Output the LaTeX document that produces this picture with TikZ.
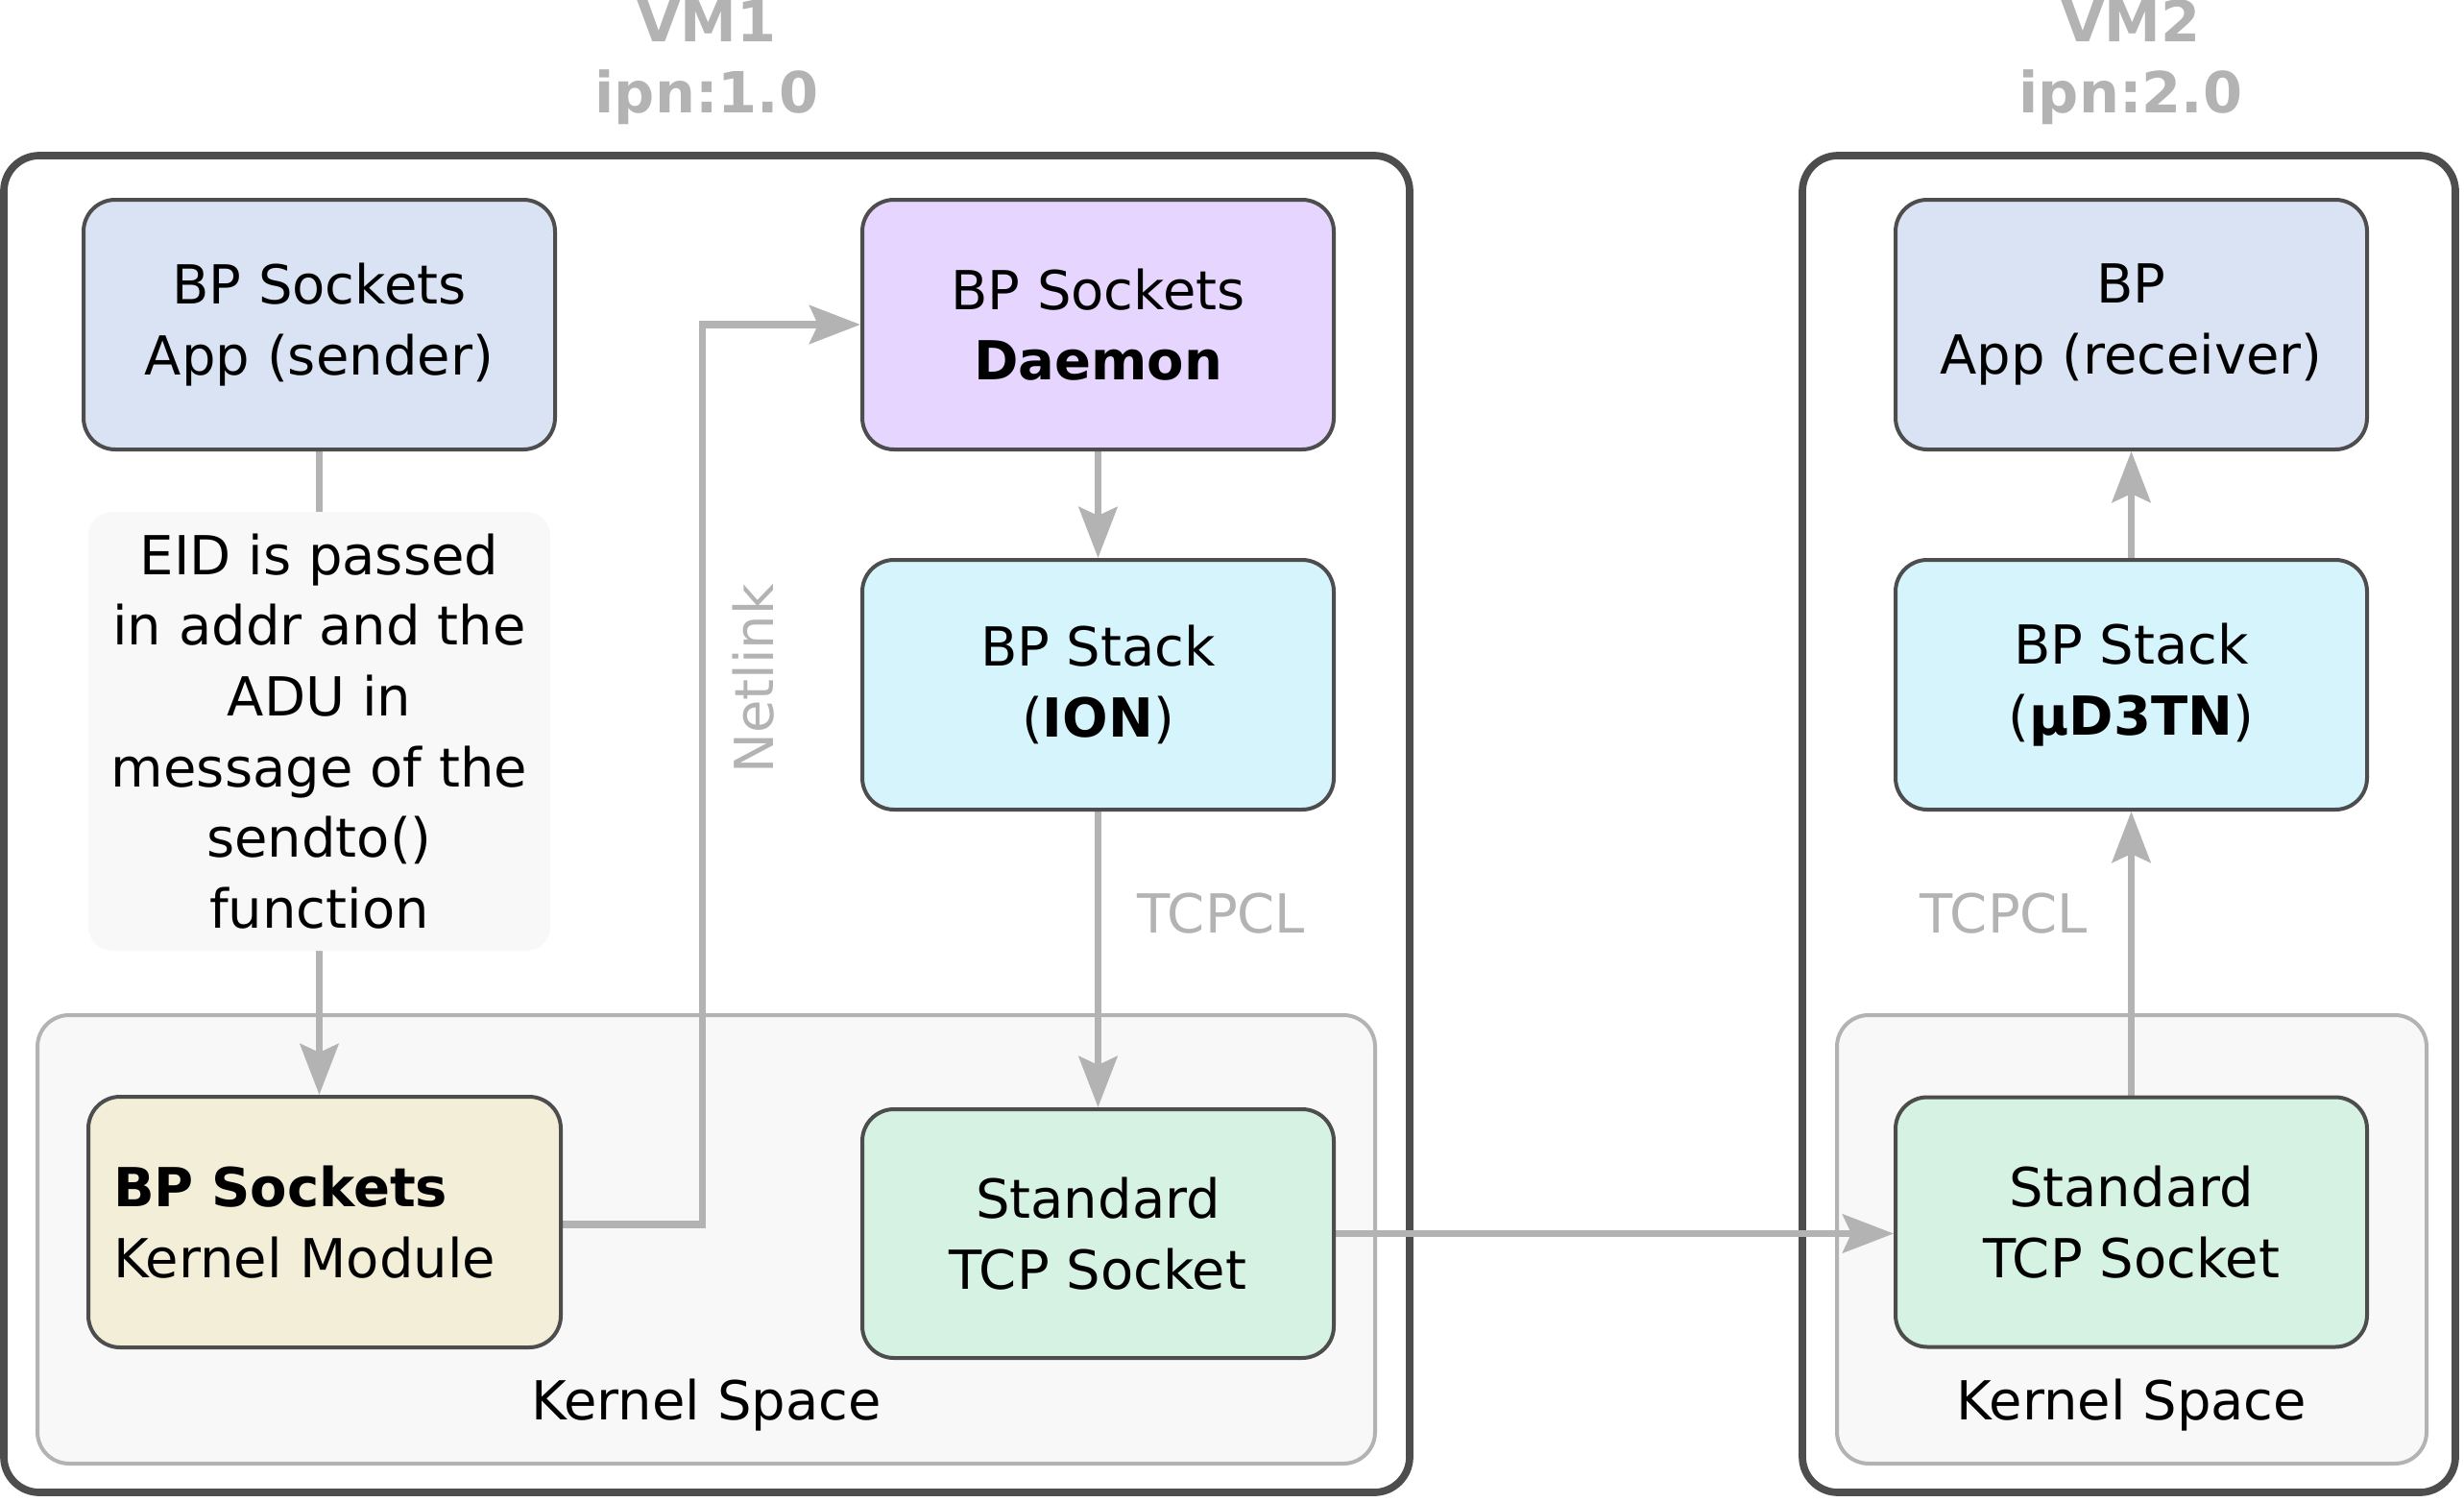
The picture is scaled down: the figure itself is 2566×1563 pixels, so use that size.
\documentclass[tikz,border=0pt]{standalone}
\usepackage{fontspec}
\setmainfont{DejaVu Sans}
\usetikzlibrary{arrows.meta}
\pgfdeclarelayer{bgA}
\pgfdeclarelayer{bgB}
\pgfsetlayers{bgA,bgB,main}
\definecolor{edgegray}{HTML}{B3B3B3}
\definecolor{boxline}{HTML}{4D4D4D}
\definecolor{kernfill}{HTML}{F8F8F8}
\definecolor{appfill}{HTML}{DAE3F3}
\definecolor{daemonfill}{HTML}{E5D5FF}
\definecolor{stackfill}{HTML}{D5F4FC}
\definecolor{tcpfill}{HTML}{D5F2E3}
\definecolor{modfill}{HTML}{F3EED8}
\begin{document}
\begin{tikzpicture}[x=1pt,y=-1pt,
  txt/.style={font=\fontsize{56}{73.6}\selectfont},
  comp/.style={txt, draw=boxline, line width=4pt, rounded corners=33pt,
    minimum width=491pt, minimum height=260pt, align=center, inner sep=0pt},
  vmbox/.style={draw=boxline, line width=7.7pt, fill=white, rounded corners=37pt,
    minimum height=1392pt, inner sep=0pt},
  ksbox/.style={draw=edgegray, line width=4pt, fill=kernfill, rounded corners=33pt,
    minimum height=467pt, inner sep=0pt},
  conn/.style={draw=edgegray, line width=7.5pt,
    -{Stealth[length=53pt,width=40pt,inset=9pt,fill=edgegray]}},
  graylbl/.style={txt, text=edgegray},
  title/.style={font=\fontsize{59}{74}\selectfont\bfseries, text=edgegray, align=center}
]
\useasboundingbox (0,0) rectangle (2566,1563);

% components
\node[comp, fill=appfill] (app) at (332.5,338) {BP Sockets\\App (sender)};
\node[comp, fill=daemonfill] (daemon) at (1143.5,338) {BP Sockets\\\textbf{Daemon}};
\node[comp, fill=stackfill] (ion) at (1143.5,713) {BP Stack\\(\textbf{ION})};
\node[comp, fill=modfill, minimum width=492pt, minimum height=261pt, text width=440pt, align=left] (module) at (338,1272.5) {\textbf{BP Sockets}\\Kernel Module};
\node[comp, fill=tcpfill, minimum height=259pt] (tcp1) at (1143.5,1284.5) {Standard\\TCP Socket};
\node[txt, fill=kernfill, rounded corners=25pt, minimum width=481pt, minimum height=457pt, align=center, inner sep=0pt] (eid) at (332.5,761.5)
  {EID is passed\\in addr and the\\ADU in\\message of the\\sendto()\\function};

\node[comp, fill=appfill] (app2) at (2219.5,338) {BP\\App (receiver)};
\node[comp, fill=stackfill] (stack2) at (2219.5,713) {BP Stack\\(\textbf{µD3TN})};
\node[comp, fill=tcpfill] (tcp2) at (2219.5,1272.5) {Standard\\TCP Socket};

% titles and labels
\node[title] (vm1title) at (736,65) {VM1\\ipn:1.0};
\node[title] (vm2title) at (2219,65) {VM2\\ipn:2.0};
\node[txt] (ks1lbl) at (735.5,1463) {Kernel Space};
\node[txt] (ks2lbl) at (2220,1463) {Kernel Space};
\node[graylbl] (tcpcl1) at (1272,951) {TCPCL};
\node[graylbl] (tcpcl2) at (2087,951) {TCPCL};
\node[graylbl, rotate=90] (netlink) at (785,707) {Netlink};

% containers
\begin{pgfonlayer}{bgA}
\node[vmbox, minimum width=1464pt] (vm1) at (736,858) {};
\node[vmbox, minimum width=680pt] (vm2) at (2217,858) {};
\node[ksbox, minimum width=1393pt] (ks1) at (735.5,1290.5) {};
\node[ksbox, minimum width=614pt] (ks2) at (2220,1290.5) {};
\end{pgfonlayer}

% connectors
\begin{pgfonlayer}{bgB}
\coordinate (nl) at (731.5,1275);
\draw[conn] (app.south) -- (app.south |- module.north);
\draw[conn] (module.east |- nl) -- (nl) |- (daemon.west);
\draw[conn] (daemon.south) -- (ion.north);
\draw[conn] (ion.south) -- (tcp1.north);
\draw[conn] (tcp1.east) -- (tcp1.east -| tcp2.west);
\draw[conn] (tcp2.north) -- (stack2.south);
\draw[conn] (stack2.north) -- (app2.south);
\end{pgfonlayer}
\end{tikzpicture}
\end{document}
